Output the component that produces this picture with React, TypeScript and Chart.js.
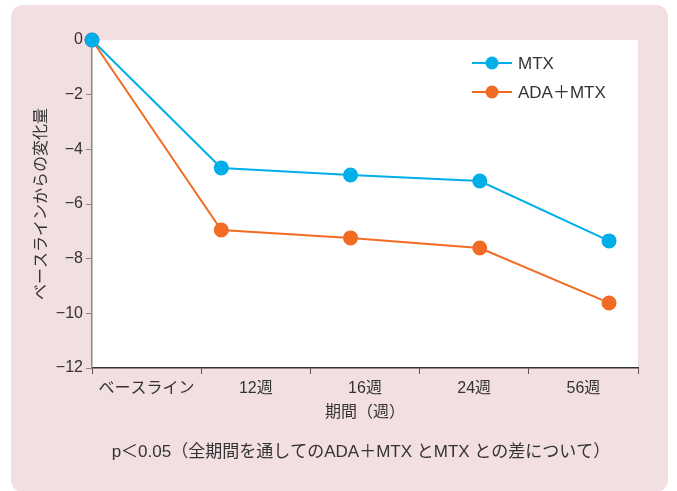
import React, { useEffect, useRef } from "react";
import { Chart, registerables } from "chart.js";

Chart.register(...registerables);

const categories = ["ベースライン", "12週", "16週", "24週", "56週"];
const timePositions = [0, 1, 2, 3, 4];
const mtxValues = [0, -4.68, -4.94, -5.16, -7.35];
const adaMtxValues = [0, -6.95, -7.24, -7.61, -9.62];
const seriesNames = ["MTX", "ADA＋MTX"];
const yTicks = [-12, -10, -8, -6, -4, -2, 0];
const yTitle = "ベースラインからの変化量";
const xTitle = "期間（週）";
const note = "p＜0.05（全期間を通してのADA＋MTX とMTX との差について）";

const BLUE = "#00aee8";
const ORANGE = "#f26b23";
const FONT = '"Liberation Sans", "Noto Sans CJK JP", sans-serif';

export default function App() {
  const ref = useRef<HTMLCanvasElement | null>(null);

  useEffect(() => {
    if (!ref.current) return;
    const decor = {
      id: "decor",
      beforeDraw(chart: any) {
        const { ctx, chartArea } = chart;
        ctx.save();
        ctx.fillStyle = "#ffffff";
        ctx.fillRect(chartArea.left, chartArea.top, chartArea.right - chartArea.left, chartArea.bottom - chartArea.top);
        ctx.restore();
      },
      afterDraw(chart: any) {
        const { ctx, chartArea } = chart;
        ctx.save();
        ctx.fillStyle = "#333333";
        ctx.font = "16px " + FONT;
        ctx.textAlign = "center";
        ctx.textBaseline = "middle";
        const cx = (chartArea.left + chartArea.right) / 2;
        ctx.fillText(xTitle, cx, 413);
        ctx.font = "17px " + FONT;
        ctx.fillText(note, cx - 4, 452);
        ctx.font = "16px " + FONT;
        ctx.save();
        ctx.translate(42, (chartArea.top + chartArea.bottom) / 2);
        ctx.rotate(-Math.PI / 2);
        ctx.fillText(yTitle, 0, 0);
        ctx.restore();
        // legend
        const items = [
          { name: seriesNames[0], color: BLUE, y: 63 },
          { name: seriesNames[1], color: ORANGE, y: 92 },
        ];
        items.forEach((it) => {
          ctx.strokeStyle = it.color;
          ctx.lineWidth = 2;
          ctx.beginPath();
          ctx.moveTo(472, it.y);
          ctx.lineTo(512, it.y);
          ctx.stroke();
          ctx.fillStyle = it.color;
          ctx.beginPath();
          ctx.arc(492, it.y, 6.5, 0, Math.PI * 2);
          ctx.fill();
          ctx.fillStyle = "#333333";
          ctx.textAlign = "left";
          ctx.font = "17px " + FONT;
          ctx.fillText(it.name, 518, it.y + 1);
        });
        ctx.restore();
      },
    };

    const chart = new Chart(ref.current, {
      type: "line",
      data: {
        labels: categories,
        datasets: [
          {
            label: seriesNames[0],
            data: timePositions.map((x, i) => ({ x, y: mtxValues[i] })),
            borderColor: BLUE,
            backgroundColor: BLUE,
            pointBackgroundColor: BLUE,
            pointBorderColor: BLUE,
            borderWidth: 2,
            pointRadius: 6.5,
            xAxisID: "x",
            yAxisID: "y",
            clip: false as any,
            order: 1,
          },
          {
            label: seriesNames[1],
            data: timePositions.map((x, i) => ({ x, y: adaMtxValues[i] })),
            borderColor: ORANGE,
            backgroundColor: ORANGE,
            pointBackgroundColor: ORANGE,
            pointBorderColor: ORANGE,
            borderWidth: 2,
            pointRadius: 6.5,
            xAxisID: "x",
            yAxisID: "y",
            clip: false as any,
            order: 2,
          },
        ],
      },
      options: {
        responsive: false,
        animation: false,
        devicePixelRatio: 1,
        layout: { padding: { left: 0, top: 40, right: 39, bottom: 0 } },
        plugins: { legend: { display: false }, tooltip: { enabled: false } },
        font: { family: FONT } as any,
        scales: {
          x: {
            type: "linear",
            display: false,
            min: 0,
            max: 4.224,
          },
          xc: {
            type: "category",
            position: "bottom",
            offset: true,
            afterFit: (s: any) => {
              s.height = 123;
            },
            grid: {
              offset: true,
              drawOnChartArea: false,
              drawTicks: true,
              tickLength: 6,
              color: "#555555",
            },
            border: { display: true, color: "#333333", width: 1.5 },
            ticks: {
              color: "#333333",
              padding: 5,
              font: { size: 16, family: FONT },
              maxRotation: 0,
            },
          },
          y: {
            type: "linear",
            min: -12,
            max: 0,
            afterFit: (s: any) => {
              s.width = 92;
            },
            afterBuildTicks: (s: any) => {
              s.ticks = yTicks.map((v) => ({ value: v }));
            },
            grid: {
              drawOnChartArea: false,
              drawTicks: true,
              tickLength: 6,
              color: "#888888",
            },
            border: { display: true, color: "#888888", width: 1.5 },
            ticks: {
              color: "#333333",
              padding: 3,
              font: { size: 16, family: FONT },
              callback: (v: any) => (Number(v) < 0 ? "−" + Math.abs(Number(v)) : String(v)),
            },
          },
        },
      },
      plugins: [decor],
    });
    return () => chart.destroy();
  }, []);

  return (
    <div style={{ position: "fixed", left: 0, top: 0, width: 677, height: 491, background: "#ffffff", overflow: "hidden" }}>
      <div
        style={{
          position: "absolute",
          left: 11,
          top: 5,
          width: 657,
          height: 487,
          borderRadius: 12,
          background: "#f2dfe2",
        }}
      />
      <canvas ref={ref} width={677} height={491} style={{ position: "absolute", left: 0, top: 0, width: 677, height: 491 }} />
    </div>
  );
}
